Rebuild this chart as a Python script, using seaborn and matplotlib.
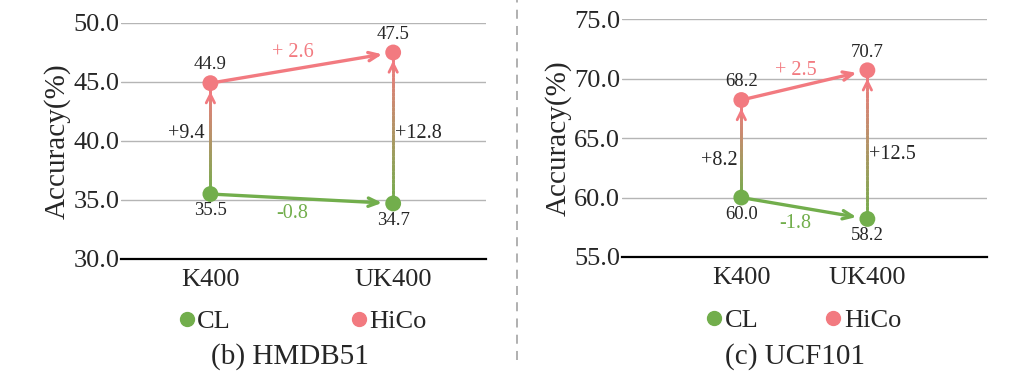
import numpy as np
import pandas as pd
import seaborn as sns
import matplotlib.pyplot as plt
from matplotlib.collections import LineCollection
from matplotlib.colors import to_rgb
from matplotlib.lines import Line2D

categories = ['K400', 'UK400']
hmdb_cl = [35.5, 34.7]
hmdb_hico = [44.9, 47.5]
ucf_cl = [60.0, 58.2]
ucf_hico = [68.2, 70.7]

GREEN = '#72AE4C'
PINK = '#F27A80'

sns.set_style('white')
plt.rcParams['font.family'] = ['Liberation Serif', 'DejaVu Serif']

fig = plt.figure(figsize=(10.24, 3.83), dpi=100)
ax1 = fig.add_axes([0.118, 0.324, 0.357, 0.616])
ax2 = fig.add_axes([0.607, 0.329, 0.357, 0.621])


def draw_panel(ax, cl, hico, ylim, xlim, title, title_x, colspace,
               vlab_y, hlab_x):
    df = pd.DataFrame({
        'dataset': categories * 2,
        'acc': cl + hico,
        'method': ['CL'] * 2 + ['HiCo'] * 2,
    })
    # gradient vertical arrows CL -> HiCo
    g0, p0 = np.array(to_rgb(GREEN)), np.array(to_rgb(PINK))
    n = 40
    for i in range(2):
        ys = np.linspace(cl[i], hico[i], n + 1)
        segs = [[(i, ys[k]), (i, ys[k + 1])] for k in range(n)]
        cols = [g0 + (p0 - g0) * (k / (n - 1)) for k in range(n)]
        ax.add_collection(LineCollection(segs, colors=cols, linewidths=2.0,
                                         capstyle='projecting', zorder=3))
        ax.annotate('', xy=(i, hico[i]), xytext=(i, hico[i] - 1.2),
                    arrowprops=dict(arrowstyle='->,head_length=0.6,head_width=0.3',
                                    color=PINK, lw=2.0, shrinkA=0, shrinkB=6),
                    zorder=3)
    # horizontal arrows K400 -> UK400
    for vals, c in [(cl, GREEN), (hico, PINK)]:
        ax.annotate('', xy=(1, vals[1]), xytext=(0, vals[0]),
                    arrowprops=dict(arrowstyle='->,head_length=0.7,head_width=0.3',
                                    color=c, lw=2.4, shrinkA=0, shrinkB=8),
                    zorder=3)

    sns.scatterplot(data=df, x='dataset', y='acc', hue='method',
                    palette={'CL': GREEN, 'HiCo': PINK}, s=130,
                    edgecolor='none', ax=ax, zorder=4, legend=False)

    # value labels
    for i in range(2):
        ax.annotate(f'{hico[i]:.1f}', (i, hico[i]), xytext=(0, 7),
                    textcoords='offset points', ha='center', va='bottom', fontsize=13.5)
        ax.annotate(f'{cl[i]:.1f}', (i, cl[i]), xytext=(0, -6),
                    textcoords='offset points', ha='center', va='top', fontsize=13.5)
    ax.text(-0.03, vlab_y[0], f'+{hico[0] - cl[0]:.1f}', ha='right', va='center', fontsize=14.5)
    ax.text(1.01, vlab_y[1], f'+{hico[1] - cl[1]:.1f}', ha='left', va='center', fontsize=14.5)
    ax.annotate(f'+ {hico[1] - hico[0]:.1f}', (hlab_x, (hico[0] + hico[1]) / 2),
                xytext=(0, 4), textcoords='offset points', ha='center', va='bottom',
                fontsize=14.5, color=PINK)
    ax.annotate(f'{cl[1] - cl[0]:.1f}', (hlab_x, (cl[0] + cl[1]) / 2),
                xytext=(0, -4), textcoords='offset points', ha='center', va='top',
                fontsize=14.5, color=GREEN)

    ax.set_ylim(*ylim)
    ax.set_xlim(*xlim)
    ticks = np.arange(ylim[0], ylim[1] + 0.1, 5)
    ax.set_yticks(ticks)
    ax.set_yticklabels([f'{v:.1f}' for v in ticks])
    ax.yaxis.grid(True, color='#b5b5b5', lw=1)
    ax.set_axisbelow(True)
    for s in ['top', 'right', 'left']:
        ax.spines[s].set_visible(False)
    ax.spines['bottom'].set_color('black')
    ax.spines['bottom'].set_linewidth(1.6)
    ax.tick_params(axis='both', length=0)
    ax.tick_params(axis='y', labelsize=19, pad=1)
    ax.tick_params(axis='x', labelsize=19, pad=7)
    ax.set_xlabel('')
    ax.set_ylabel('Accuracy(%)', fontsize=21, labelpad=2)

    handles = [Line2D([], [], marker='o', ls='', color=GREEN, markersize=10),
               Line2D([], [], marker='o', ls='', color=PINK, markersize=10)]
    ax.legend(handles, ['CL', 'HiCo'], loc='center', bbox_to_anchor=(0.5, -0.265),
              ncol=2, frameon=False, fontsize=19, handlelength=0.5,
              handletextpad=0.15, columnspacing=colspace)
    fig.text(title_x, 0.07, title, ha='center', va='center', fontsize=21)


draw_panel(ax1, hmdb_cl, hmdb_hico, (30, 50), (-0.49, 1.51), '(b) HMDB51', 0.283,
           4.6, (40.6, 40.6), 0.45)
draw_panel(ax2, ucf_cl, ucf_hico, (55, 75), (-0.95, 1.95), '(c) UCF101', 0.776,
           2.6, (63.1, 63.6), 0.43)

# dashed separator between panels
fig.add_artist(Line2D([0.505, 0.505], [0.06, 1.0], transform=fig.transFigure,
                      color='#aaaaaa', lw=1.3, ls=(0, (5, 4))))

fig.savefig('out.png', dpi=100)
